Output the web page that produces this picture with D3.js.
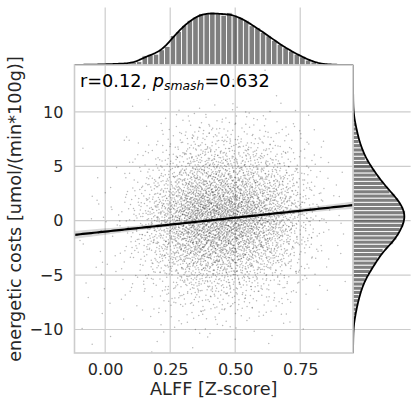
<!DOCTYPE html>
<html>
<head>
<meta charset="utf-8">
<script src="https://cdn.jsdelivr.net/npm/d3@7"></script>
<style>
  body { margin: 0; background: #fff; }
  svg { display: block; font-family: "DejaVu Sans", sans-serif; }
</style>
</head>
<body>
<div id="chart"></div>
<script>
// Axis limits and ticks
const xLimits = [-0.118, 0.953];
const yLimits = [-12.16, 14.31];
const xTicks = [0, 0.25, 0.5, 0.75];
const yTicks = [-10, -5, 0, 5, 10];

// Top marginal histogram (ALFF), 50 bins
const xBinStart = -0.118;
const xBinWidth = 0.02165;
const xCounts = [
  1, 1, 2, 2, 3, 4,
  6, 6, 8, 9, 14, 20,
  54, 60, 64, 90, 110, 174,
  198, 234, 264, 282, 304, 303,
  309, 303, 294, 309, 288, 279,
  264, 232, 219, 192, 172, 146,
  122, 102, 82, 64, 49, 29,
  18, 8, 4, 2, 1, 1, 0, 1
];

// Right marginal histogram (energetic costs)
const yBinStart = -11.78;
const yBinWidth = 0.385;
const yCounts = [
  1, 1, 1, 2, 2, 4, 6, 12, 16, 20,
  26, 32, 36, 46, 52, 60, 72, 86, 100, 116,
  132, 146, 166, 176, 206, 236, 256, 266, 276, 296,
  302, 306, 306, 296, 280, 266, 246, 216, 200, 176,
  160, 136, 126, 106, 92, 72, 66, 56, 46, 36,
  32, 26, 21, 15, 9, 6, 3, 2, 1, 1,
  1, 1
];

// Scatter: number of points per cell (rows bottom -> top, columns left -> right)
const gridX = [-0.1, 0, 0.1, 0.2, 0.3, 0.4, 0.5, 0.6, 0.7, 0.8, 0.9, 1.0];
const gridY = [-12, -10, -8, -6, -4, -2, 0, 2, 4, 6, 8, 10, 12, 14];
const gridCounts = [
  [1, 1, 1, 1, 2, 2, 1, 1, 0, 0, 0],
  [2, 1, 2, 6, 10, 11, 8, 5, 2, 0, 0],
  [2, 2, 7, 19, 35, 36, 28, 17, 5, 1, 0],
  [2, 3, 15, 42, 77, 81, 63, 39, 12, 2, 1],
  [3, 4, 29, 87, 165, 172, 136, 85, 27, 4, 0],
  [3, 5, 42, 128, 248, 259, 207, 132, 43, 6, 1],
  [3, 5, 44, 136, 288, 300, 250, 162, 55, 7, 1],
  [2, 3, 25, 80, 179, 187, 157, 105, 37, 5, 1],
  [1, 2, 12, 41, 95, 99, 84, 57, 20, 3, 1],
  [1, 1, 5, 18, 43, 45, 38, 26, 9, 1, 0],
  [0, 1, 2, 6, 14, 14, 12, 9, 3, 1, 0],
  [0, 0, 1, 0, 1, 1, 1, 1, 1, 0, 0],
  [0, 0, 0, 0, 0, 1, 0, 1, 0, 0, 0]
];

// Fitted regression line
const regIntercept = -1.0;
const regSlope = 2.55;

const annotation = { r: "0.12", p: "0.632" };

// Layout
const W = 415, H = 407;
const box = { left: 74.5, right: 353, top: 65, bottom: 353 };
const marg = 57.6;
const textColor = "#262626";
const gridColor = "#cccccc";

const svg = d3.select("#chart").append("svg").attr("width", W).attr("height", H);

const x = d3.scaleLinear().domain(xLimits).range([box.left, box.right]);
const y = d3.scaleLinear().domain(yLimits).range([box.bottom, box.top]);

// clip paths
const defs = svg.append("defs");
defs.append("clipPath").attr("id", "clipMain").append("rect")
  .attr("x", box.left).attr("y", box.top)
  .attr("width", box.right - box.left).attr("height", box.bottom - box.top);
defs.append("clipPath").attr("id", "clipTop").append("rect")
  .attr("x", box.left).attr("y", box.top - marg)
  .attr("width", box.right - box.left).attr("height", marg);
defs.append("clipPath").attr("id", "clipRight").append("rect")
  .attr("x", box.right).attr("y", box.top)
  .attr("width", marg).attr("height", box.bottom - box.top);

// Grid lines
const grid = svg.append("g").attr("stroke", gridColor).attr("stroke-width", 1.2);
grid.selectAll(".vx").data(xTicks).join("line")
  .attr("x1", d => x(d)).attr("x2", d => x(d))
  .attr("y1", box.top - marg).attr("y2", box.bottom);
grid.selectAll(".hy").data(yTicks).join("line")
  .attr("x1", box.left).attr("x2", box.right + marg)
  .attr("y1", d => y(d)).attr("y2", d => y(d));

// Scatter points laid out inside each cell (Halton sequence, tent-shaped spread)
const halton = (i, b) => {
  let f = 1, r = 0;
  while (i > 0) { f /= b; r += f * (i % b); i = Math.floor(i / b); }
  return r;
};
const tent = u => (u < 0.5 ? Math.sqrt(2 * u) - 1 : 1 - Math.sqrt(2 - 2 * u));
const points = [];
let g = 1;
gridCounts.forEach((row, j) => {
  row.forEach((cnt, i) => {
    const cx = (gridX[i] + gridX[i + 1]) / 2, w = gridX[i + 1] - gridX[i];
    const cy = (gridY[j] + gridY[j + 1]) / 2, h = gridY[j + 1] - gridY[j];
    for (let n = 0; n < cnt; n++, g++) {
      points.push([cx + w * tent(halton(g, 2)), cy + h * tent(halton(g, 3))]);
    }
  });
});

svg.append("g").attr("clip-path", "url(#clipMain)")
  .selectAll("circle").data(points).join("circle")
  .attr("cx", d => x(d[0])).attr("cy", d => y(d[1]))
  .attr("r", 0.75).attr("fill", "#000").attr("fill-opacity", 0.28);

// Regression line with 95% band
const n = points.length;
const xm = d3.mean(points, d => d[0]);
const sxx = d3.sum(points, d => (d[0] - xm) ** 2);
const s = Math.sqrt(d3.sum(points, d => (d[1] - (regIntercept + regSlope * d[0])) ** 2) / (n - 2));
const ci = xv => 1.96 * s * Math.sqrt(1 / n + (xv - xm) ** 2 / sxx);
const xs = d3.range(0, 101).map(i => xLimits[0] + (xLimits[1] - xLimits[0]) * i / 100);
const fit = xv => regIntercept + regSlope * xv;

const regG = svg.append("g").attr("clip-path", "url(#clipMain)");
regG.append("path").datum(xs)
  .attr("fill", "#000").attr("fill-opacity", 0.15)
  .attr("d", d3.area().x(d => x(d)).y0(d => y(fit(d) - ci(d))).y1(d => y(fit(d) + ci(d))));
regG.append("path").datum(xs)
  .attr("fill", "none").attr("stroke", "#000").attr("stroke-width", 2.2)
  .attr("d", d3.line().x(d => x(d)).y(d => y(fit(d))));

// KDE from binned counts (Scott bandwidth), scaled to counts
function kdeCounts(start, width, counts, evalAt) {
  const centers = counts.map((c, i) => start + width * (i + 0.5));
  const total = d3.sum(counts);
  const mean = d3.sum(counts, (c, i) => c * centers[i]) / total;
  const sd = Math.sqrt(d3.sum(counts, (c, i) => c * (centers[i] - mean) ** 2) / (total - 1));
  const bw = sd * Math.pow(total, -0.2);
  return evalAt.map(v => [v, d3.sum(counts, (c, i) => {
    const z = (v - centers[i]) / bw;
    return c * width * Math.exp(-z * z / 2) / (bw * Math.sqrt(2 * Math.PI));
  })]);
}

// Top marginal
const kdeX = kdeCounts(xBinStart, xBinWidth, xCounts,
  d3.range(0, 201).map(i => xLimits[0] + (xLimits[1] - xLimits[0]) * i / 200));
const topMax = Math.max(d3.max(xCounts), d3.max(kdeX, d => d[1])) * 1.1;
const yTop = d3.scaleLinear().domain([0, topMax]).range([box.top, box.top - marg]);

const topG = svg.append("g").attr("clip-path", "url(#clipTop)");
topG.selectAll("rect").data(xCounts).join("rect")
  .attr("x", (d, i) => x(xBinStart + i * xBinWidth))
  .attr("width", x(xBinWidth) - x(0))
  .attr("y", d => yTop(d))
  .attr("height", d => yTop(0) - yTop(d))
  .attr("fill", "#000").attr("fill-opacity", 0.5)
  .attr("stroke", "#fff").attr("stroke-width", 0.9);
topG.append("path").datum(kdeX)
  .attr("fill", "none").attr("stroke", "#000").attr("stroke-width", 1.8)
  .attr("d", d3.line().x(d => x(d[0])).y(d => yTop(d[1])));

// Right marginal
const kdeY = kdeCounts(yBinStart, yBinWidth, yCounts,
  d3.range(0, 201).map(i => yLimits[0] + (yLimits[1] - yLimits[0]) * i / 200));
const rightMax = Math.max(d3.max(yCounts), d3.max(kdeY, d => d[1])) * 1.1;
const xRight = d3.scaleLinear().domain([0, rightMax]).range([box.right, box.right + marg]);

const rightG = svg.append("g").attr("clip-path", "url(#clipRight)");
rightG.selectAll("rect").data(yCounts).join("rect")
  .attr("x", xRight(0))
  .attr("width", d => xRight(d) - xRight(0))
  .attr("y", (d, i) => y(yBinStart + (i + 1) * yBinWidth))
  .attr("height", y(0) - y(yBinWidth))
  .attr("fill", "#000").attr("fill-opacity", 0.5)
  .attr("stroke", "#fff").attr("stroke-width", 0.9);
rightG.append("path").datum(kdeY)
  .attr("fill", "none").attr("stroke", "#000").attr("stroke-width", 1.8)
  .attr("d", d3.line().x(d => xRight(d[1])).y(d => y(d[0])));

// Spines (drawn on top, as matplotlib does)
const spines = svg.append("g").attr("stroke", gridColor).attr("stroke-width", 1.6).attr("fill", "none");
spines.append("rect")
  .attr("x", box.left).attr("y", box.top)
  .attr("width", box.right - box.left).attr("height", box.bottom - box.top);

// Axes
const xAxis = svg.append("g")
  .attr("transform", `translate(0,${box.bottom})`)
  .call(d3.axisBottom(x).tickValues(xTicks).tickSize(0).tickPadding(11).tickFormat(d3.format(".2f")));
const yAxis = svg.append("g")
  .attr("transform", `translate(${box.left},0)`)
  .call(d3.axisLeft(y).tickValues(yTicks).tickSize(0).tickPadding(11.2));
[xAxis, yAxis].forEach(a => {
  a.select(".domain").remove();
  a.selectAll("text").attr("font-size", "16px").attr("fill", textColor)
    .attr("font-family", "DejaVu Sans, sans-serif");
});

// Axis labels
svg.append("text")
  .attr("x", (box.left + box.right) / 2).attr("y", 395)
  .attr("text-anchor", "middle").attr("font-size", "17.7px").attr("fill", textColor)
  .text("ALFF [Z-score]");
svg.append("text")
  .attr("transform", `translate(21,${(box.top + box.bottom) / 2}) rotate(-90)`)
  .attr("text-anchor", "middle").attr("font-size", "17.7px").attr("fill", textColor)
  .text("energetic costs [umol/(min*100g)]");

// Annotation
const ann = svg.append("text")
  .attr("x", 80).attr("y", 86.5)
  .attr("font-size", "17.7px").attr("fill", "#000");
ann.append("tspan").text(`r=${annotation.r}, `);
ann.append("tspan").attr("font-style", "italic").text("p");
ann.append("tspan").attr("font-style", "italic").attr("font-size", "12.4px").attr("dy", 3.5).text("smash");
ann.append("tspan").attr("dy", -3.5).text(`=${annotation.p}`);
</script>
</body>
</html>
